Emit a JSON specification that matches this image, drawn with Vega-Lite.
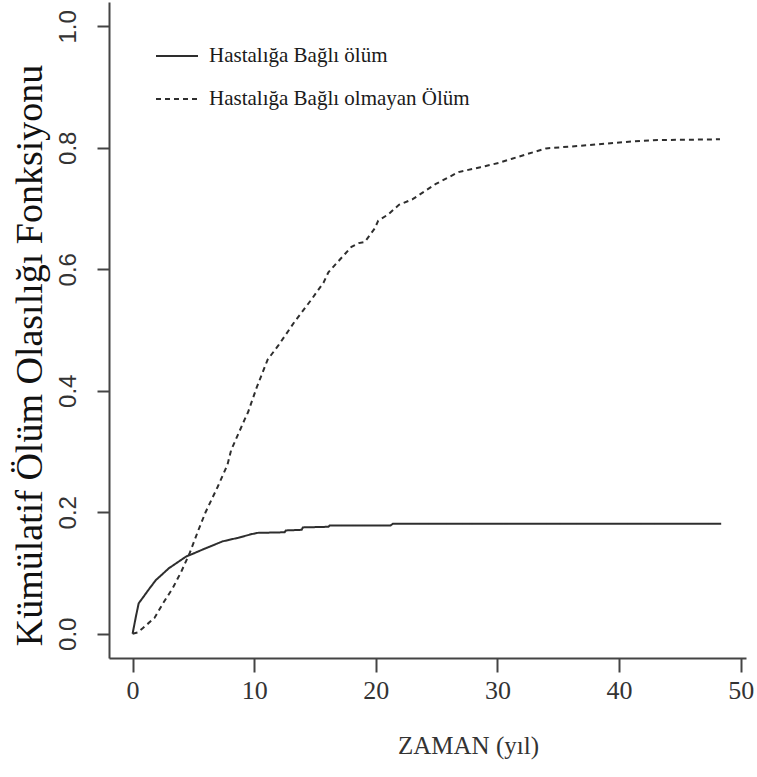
{
  "$schema": "https://vega.github.io/schema/vega-lite/v6.json",
  "width": 637,
  "height": 656,
  "autosize": {"type": "none"},
  "padding": {"left": 109, "top": 2, "right": 11, "bottom": 119},
  "background": "white",
  "config": {"view": {"stroke": null}},
  "data": {
    "values": [
      {"t": 0, "p": 0, "tur": "Hastalığa Bağlı ölüm"},
      {"t": 0.27, "p": 0.028, "tur": "Hastalığa Bağlı ölüm"},
      {"t": 0.5, "p": 0.05, "tur": "Hastalığa Bağlı ölüm"},
      {"t": 0.83, "p": 0.059, "tur": "Hastalığa Bağlı ölüm"},
      {"t": 1.3, "p": 0.072, "tur": "Hastalığa Bağlı ölüm"},
      {"t": 1.9, "p": 0.088, "tur": "Hastalığa Bağlı ölüm"},
      {"t": 3.0, "p": 0.108, "tur": "Hastalığa Bağlı ölüm"},
      {"t": 4.4, "p": 0.127, "tur": "Hastalığa Bağlı ölüm"},
      {"t": 5.0, "p": 0.132, "tur": "Hastalığa Bağlı ölüm"},
      {"t": 6.05, "p": 0.141, "tur": "Hastalığa Bağlı ölüm"},
      {"t": 7.4, "p": 0.152, "tur": "Hastalığa Bağlı ölüm"},
      {"t": 8.7, "p": 0.158, "tur": "Hastalığa Bağlı ölüm"},
      {"t": 9.8, "p": 0.164, "tur": "Hastalığa Bağlı ölüm"},
      {"t": 10.3, "p": 0.166, "tur": "Hastalığa Bağlı ölüm"},
      {"t": 12.5, "p": 0.167, "tur": "Hastalığa Bağlı ölüm"},
      {"t": 12.6, "p": 0.17, "tur": "Hastalığa Bağlı ölüm"},
      {"t": 13.9, "p": 0.171, "tur": "Hastalığa Bağlı ölüm"},
      {"t": 14.0, "p": 0.175, "tur": "Hastalığa Bağlı ölüm"},
      {"t": 16.1, "p": 0.176, "tur": "Hastalığa Bağlı ölüm"},
      {"t": 16.2, "p": 0.178, "tur": "Hastalığa Bağlı ölüm"},
      {"t": 21.2, "p": 0.178, "tur": "Hastalığa Bağlı ölüm"},
      {"t": 21.4, "p": 0.181, "tur": "Hastalığa Bağlı ölüm"},
      {"t": 48.4, "p": 0.181, "tur": "Hastalığa Bağlı ölüm"},
      {"t": 0, "p": 0, "tur": "Hastalığa Bağlı olmayan Ölüm"},
      {"t": 0.4, "p": 0.002, "tur": "Hastalığa Bağlı olmayan Ölüm"},
      {"t": 0.83, "p": 0.009, "tur": "Hastalığa Bağlı olmayan Ölüm"},
      {"t": 1.8, "p": 0.026, "tur": "Hastalığa Bağlı olmayan Ölüm"},
      {"t": 2.5, "p": 0.05, "tur": "Hastalığa Bağlı olmayan Ölüm"},
      {"t": 3.3, "p": 0.075, "tur": "Hastalığa Bağlı olmayan Ölüm"},
      {"t": 4.0, "p": 0.102, "tur": "Hastalığa Bağlı olmayan Ölüm"},
      {"t": 4.7, "p": 0.133, "tur": "Hastalığa Bağlı olmayan Ölüm"},
      {"t": 5.4, "p": 0.17, "tur": "Hastalığa Bağlı olmayan Ölüm"},
      {"t": 6.0, "p": 0.2, "tur": "Hastalığa Bağlı olmayan Ölüm"},
      {"t": 7.0, "p": 0.242, "tur": "Hastalığa Bağlı olmayan Ölüm"},
      {"t": 7.8, "p": 0.278, "tur": "Hastalığa Bağlı olmayan Ölüm"},
      {"t": 8.1, "p": 0.302, "tur": "Hastalığa Bağlı olmayan Ölüm"},
      {"t": 9.2, "p": 0.352, "tur": "Hastalığa Bağlı olmayan Ölüm"},
      {"t": 9.5, "p": 0.365, "tur": "Hastalığa Bağlı olmayan Ölüm"},
      {"t": 10.2, "p": 0.405, "tur": "Hastalığa Bağlı olmayan Ölüm"},
      {"t": 11.1, "p": 0.451, "tur": "Hastalığa Bağlı olmayan Ölüm"},
      {"t": 12.0, "p": 0.475, "tur": "Hastalığa Bağlı olmayan Ölüm"},
      {"t": 13.3, "p": 0.513, "tur": "Hastalığa Bağlı olmayan Ölüm"},
      {"t": 14.7, "p": 0.55, "tur": "Hastalığa Bağlı olmayan Ölüm"},
      {"t": 15.7, "p": 0.578, "tur": "Hastalığa Bağlı olmayan Ölüm"},
      {"t": 16.1, "p": 0.595, "tur": "Hastalığa Bağlı olmayan Ölüm"},
      {"t": 17.5, "p": 0.626, "tur": "Hastalığa Bağlı olmayan Ölüm"},
      {"t": 18.0, "p": 0.637, "tur": "Hastalığa Bağlı olmayan Ölüm"},
      {"t": 18.6, "p": 0.643, "tur": "Hastalığa Bağlı olmayan Ölüm"},
      {"t": 19.1, "p": 0.645, "tur": "Hastalığa Bağlı olmayan Ölüm"},
      {"t": 19.9, "p": 0.667, "tur": "Hastalığa Bağlı olmayan Ölüm"},
      {"t": 20.2, "p": 0.68, "tur": "Hastalığa Bağlı olmayan Ölüm"},
      {"t": 21.0, "p": 0.69, "tur": "Hastalığa Bağlı olmayan Ölüm"},
      {"t": 21.9, "p": 0.706, "tur": "Hastalığa Bağlı olmayan Ölüm"},
      {"t": 23.0, "p": 0.715, "tur": "Hastalığa Bağlı olmayan Ölüm"},
      {"t": 24.9, "p": 0.74, "tur": "Hastalığa Bağlı olmayan Ölüm"},
      {"t": 26.8, "p": 0.76, "tur": "Hastalığa Bağlı olmayan Ölüm"},
      {"t": 28.6, "p": 0.768, "tur": "Hastalığa Bağlı olmayan Ölüm"},
      {"t": 30.1, "p": 0.775, "tur": "Hastalığa Bağlı olmayan Ölüm"},
      {"t": 31.2, "p": 0.782, "tur": "Hastalığa Bağlı olmayan Ölüm"},
      {"t": 32.5, "p": 0.79, "tur": "Hastalığa Bağlı olmayan Ölüm"},
      {"t": 34.0, "p": 0.799, "tur": "Hastalığa Bağlı olmayan Ölüm"},
      {"t": 37.3, "p": 0.804, "tur": "Hastalığa Bağlı olmayan Ölüm"},
      {"t": 40.8, "p": 0.81, "tur": "Hastalığa Bağlı olmayan Ölüm"},
      {"t": 42.8, "p": 0.8125, "tur": "Hastalığa Bağlı olmayan Ölüm"},
      {"t": 48.3, "p": 0.814, "tur": "Hastalığa Bağlı olmayan Ölüm"}
    ]
  },
  "mark": {"type": "line", "color": "#2e2e2e", "strokeWidth": 2},
  "encoding": {
    "x": {
      "field": "t",
      "type": "quantitative",
      "scale": {"domain": [-1.94, 50.44], "nice": false, "zero": false},
      "axis": {
        "values": [0, 10, 20, 30, 40, 50],
        "grid": false,
        "domainColor": "#444444",
        "domainWidth": 2,
        "tickColor": "#444444",
        "tickWidth": 2,
        "tickSize": 14,
        "labelFont": "Liberation Sans Narrow",
        "labelFontSize": 26,
        "labelColor": "#333333",
        "labelPadding": 5,
        "title": "ZAMAN (yıl)",
        "titleFont": "Liberation Serif",
        "titleFontSize": 25,
        "titleFontWeight": "normal",
        "titleColor": "#333333",
        "titleX": 359,
        "titleY": 87,
        "titleAlign": "center",
        "titleBaseline": "middle"
      }
    },
    "y": {
      "field": "p",
      "type": "quantitative",
      "scale": {"domain": [-0.04, 1.04], "nice": false, "zero": false},
      "axis": {
        "values": [0, 0.2, 0.4, 0.6, 0.8, 1.0],
        "format": ".1f",
        "grid": false,
        "domainColor": "#444444",
        "domainWidth": 2,
        "tickColor": "#444444",
        "tickWidth": 2,
        "tickSize": 12,
        "labelFont": "Liberation Sans",
        "labelFontSize": 24,
        "labelColor": "#333333",
        "labelAngle": -90,
        "labelAlign": "center",
        "labelBaseline": "bottom",
        "labelPadding": 17,
        "title": "Kümülatif Ölüm Olasılığı Fonksiyonu",
        "titleFont": "Liberation Serif",
        "titleFontSize": 38,
        "titleFontWeight": "normal",
        "titleColor": "#111111",
        "titleAngle": -90,
        "titleX": -79,
        "titleY": 353,
        "titleAlign": "center",
        "titleBaseline": "middle"
      }
    },
    "strokeDash": {
      "field": "tur",
      "type": "nominal",
      "scale": {
        "domain": ["Hastalığa Bağlı ölüm", "Hastalığa Bağlı olmayan Ölüm"],
        "range": [[1, 0], [5, 4]]
      },
      "legend": {
        "title": null,
        "orient": "none",
        "legendX": 46,
        "legendY": 32,
        "padding": 0,
        "symbolType": "stroke",
        "symbolSize": 1764,
        "symbolStrokeWidth": 2,
        "symbolStrokeColor": "#2e2e2e",
        "labelFont": "Liberation Serif",
        "labelFontSize": 21,
        "labelColor": "#1a1a1a",
        "labelOffset": 10,
        "rowPadding": 11,
        "labelLimit": 400
      }
    }
  }
}
